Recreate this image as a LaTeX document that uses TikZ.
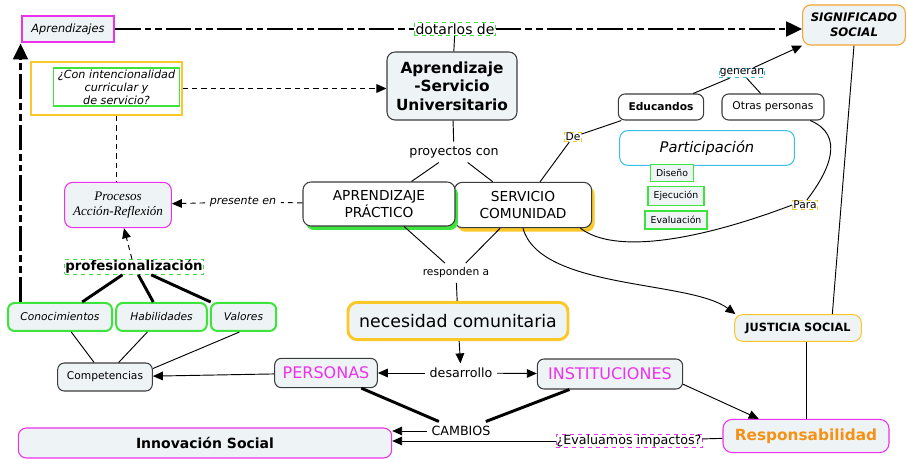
\documentclass[tikz,border=0pt]{standalone}
\usepackage{fontspec}
\setmainfont{DejaVu Sans}
\newfontfamily\seriffont{Liberation Serif}
\usepackage{tikz}
\usetikzlibrary{arrows.meta,shadows}
\usepackage{xcolor}
\definecolor{fondo}{RGB}{238,243,246}
\definecolor{gris}{RGB}{60,60,60}
\definecolor{rosa}{RGB}{236,50,236}
\definecolor{verde}{RGB}{60,228,60}
\definecolor{amarillo}{RGB}{250,200,40}
\definecolor{naranja}{RGB}{245,165,50}
\definecolor{naranjo}{RGB}{245,145,20}
\definecolor{celeste}{RGB}{60,190,235}

\begin{document}
\begin{tikzpicture}[x=0.75pt,y=-0.75pt,
    caja/.style={draw=gris,fill=fondo,rounded corners=4pt,line width=0.8pt,inner sep=1pt,align=center},
    blanca/.style={caja,fill=white},
    etiqueta/.style={draw,dashed,fill=white,inner sep=0.8pt,line width=0.7pt},
    enlace/.style={line width=0.7pt},
    flecha/.style={enlace,-{Triangle[length=7.5pt,width=6.5pt]}},
    grueso/.style={line width=2.2pt},
    rayapunto/.style={line width=2.2pt,dash pattern=on 19pt off 3pt on 5pt off 3pt on 5pt off 3pt},
    punteada/.style={enlace,dash pattern=on 4pt off 3pt}]
  \useasboundingbox (0,0) rectangle (907,459);

  \node[caja,draw=rosa,line width=2.2pt,rounded corners=0pt,minimum width=69pt,minimum height=19.5pt,font=\fontsize{8.5}{10}\selectfont\itshape] (aprendizajes) at (68,29) {Aprendizajes};
  \node[etiqueta,draw=verde,font=\fontsize{10.5}{12}\selectfont] (dotarlos) at (455,29) {dotarlos de};
  \node[caja,draw=naranja,rounded corners=6pt,minimum width=77pt,minimum height=30pt,font=\fontsize{8.8}{11}\selectfont\bfseries\itshape] (significado) at (854,25) {SIGNIFICADO\\SOCIAL};
  \node[draw=amarillo,line width=1.2pt,minimum width=113pt,minimum height=40pt] (marco) at (106.5,88.5) {};
  \node[draw=verde,line width=0.8pt,minimum width=94pt,minimum height=28.5pt,inner sep=0pt,align=center,font=\fontsize{8.4}{9.8}\selectfont\itshape] (pregunta) at (116.5,87) {¿Con intencionalidad\\curricular y\\de servicio?};
  \node[caja,rounded corners=6pt,minimum width=97.5pt,minimum height=51pt,font=\fontsize{11.5}{14}\selectfont\bfseries] (apsu) at (452,86) {Aprendizaje\\-Servicio\\Universitario};

  \node[blanca,rounded corners=5pt,minimum width=64pt,minimum height=19.5pt,font=\fontsize{8}{9.6}\selectfont\bfseries] (educandos) at (661,107) {Educandos};
  \node[blanca,rounded corners=5pt,minimum width=76.5pt,minimum height=19.5pt,font=\fontsize{8}{9.6}\selectfont] (otras) at (773,107) {Otras personas};
  \node[etiqueta,draw=celeste,inner sep=0.5pt,font=\fontsize{8}{9.6}\selectfont] (generan) at (742,73) {generan};
  \node[blanca,draw=celeste,rounded corners=6pt,minimum width=131pt,minimum height=26pt,font=\fontsize{11}{13}\selectfont\itshape] (participacion) at (707,148) {Participación};
  \node[caja,draw=verde,rounded corners=0pt,minimum width=32pt,minimum height=13pt,font=\fontsize{7}{8.4}\selectfont] (diseno) at (672,173) {Diseño};
  \node[caja,draw=verde,rounded corners=0pt,minimum width=42pt,minimum height=14pt,font=\fontsize{7}{8.4}\selectfont] (ejecucion) at (676,196) {Ejecución};
  \node[caja,draw=verde,rounded corners=0pt,minimum width=46.5pt,minimum height=13.5pt,font=\fontsize{7}{8.4}\selectfont] (evaluacion) at (676,220) {Evaluación};
  \node[etiqueta,draw=amarillo,inner sep=0.5pt,font=\fontsize{8}{9.6}\selectfont] (de) at (573,137) {De};
  \node[etiqueta,draw=amarillo,inner sep=0.5pt,font=\fontsize{8}{9.6}\selectfont] (para) at (805,205) {Para};

  \node[font=\fontsize{9.5}{11}\selectfont] (proyectos) at (454,152) {proyectos con};
  \node[blanca,rounded corners=6pt,minimum width=103pt,minimum height=34pt,font=\fontsize{10.3}{12.5}\selectfont,
        drop shadow={shadow xshift=2.2pt,shadow yshift=-3pt,fill=amarillo,opacity=1}] (servicio) at (523,205) {SERVICIO\\COMUNIDAD};
  \node[blanca,rounded corners=6pt,minimum width=114pt,minimum height=33pt,font=\fontsize{10.3}{12.5}\selectfont,
        drop shadow={shadow xshift=2.2pt,shadow yshift=-3pt,fill=verde,opacity=1}] (practico) at (379,204) {APRENDIZAJE\\PRÁCTICO};
  \node[caja,draw=rosa,rounded corners=6pt,minimum width=80pt,minimum height=34pt,font=\seriffont\fontsize{9.8}{11.5}\selectfont\itshape] (procesos) at (118,205) {Procesos\\Acción-Reflexión};
  \node[font=\fontsize{8.3}{9.6}\selectfont\itshape] (presente) at (243,202) {presente en};
  \node[etiqueta,draw=verde,inner sep=0.5pt,font=\fontsize{10}{12}\selectfont\bfseries] (profesional) at (134,267) {profesionalización};

  \node[caja,draw=verde,line width=1.5pt,rounded corners=5pt,minimum width=78pt,minimum height=21pt,font=\fontsize{8}{9.6}\selectfont\itshape] (conocimientos) at (60,317) {Conocimientos};
  \node[caja,draw=verde,line width=1.5pt,rounded corners=5pt,minimum width=68pt,minimum height=21pt,font=\fontsize{8}{9.6}\selectfont\itshape] (habilidades) at (161.5,317) {Habilidades};
  \node[caja,draw=verde,line width=1.5pt,rounded corners=5pt,minimum width=49pt,minimum height=21pt,font=\fontsize{8}{9.6}\selectfont\itshape] (valores) at (243.5,317) {Valores};
  \node[caja,rounded corners=5pt,minimum width=71pt,minimum height=21pt,font=\fontsize{8}{9.6}\selectfont] (competencias) at (105,377) {Competencias};

  \node[font=\fontsize{8}{9.6}\selectfont] (responden) at (456,273) {responden a};
  \node[caja,draw=amarillo,line width=2.2pt,rounded corners=7pt,minimum width=165pt,minimum height=28pt,font=\fontsize{13}{15}\selectfont] (necesidad) at (458,321) {necesidad comunitaria};
  \node[caja,rounded corners=5pt,minimum width=77pt,minimum height=22pt,text=rosa,font=\fontsize{12}{14}\selectfont] (personas) at (326,373) {PERSONAS};
  \node[font=\fontsize{9.5}{11}\selectfont] (desarrollo) at (461,373) {desarrollo};
  \node[caja,rounded corners=5pt,minimum width=109pt,minimum height=22.5pt,text=rosa,font=\fontsize{12}{14}\selectfont] (instituciones) at (610,374) {INSTITUCIONES};
  \node[caja,draw=amarillo,rounded corners=6pt,minimum width=95pt,minimum height=20pt,font=\fontsize{8.5}{10}\selectfont\bfseries] (justicia) at (798,328) {JUSTICIA SOCIAL};
  \node[font=\fontsize{9.5}{11}\selectfont] (cambios) at (461,431) {CAMBIOS};
  \node[caja,draw=rosa,rounded corners=6pt,minimum width=280pt,minimum height=22.5pt,font=\fontsize{10.5}{12}\selectfont\bfseries] (innovacion) at (205,443) {Innovación Social};
  \node[etiqueta,draw=rosa,inner sep=0.5pt,font=\fontsize{9.5}{11}\selectfont] (evaluamos) at (629,441) {¿Evaluamos impactos?};
  \node[caja,draw=rosa,rounded corners=7pt,minimum width=124.5pt,minimum height=25pt,text=naranjo,font=\fontsize{11.5}{13}\selectfont\bfseries] (responsabilidad) at (806,436) {Responsabilidad};

  \draw[rayapunto] (aprendizajes) -- (dotarlos);
  \draw[rayapunto,-{Triangle[length=12pt,width=11pt]}] (dotarlos) -- (significado.west |- dotarlos);
  \draw[rayapunto,-{Triangle[length=12pt,width=11pt]}] (aprendizajes.south west |- conocimientos.north) -- (aprendizajes.south west);
  \draw[punteada,-{Triangle[length=7.5pt,width=6.5pt]}] (marco.east) -- (apsu.west |- marco.east);
  \draw[punteada] (marco.south -| pregunta.south) -- (procesos.north -| pregunta.south);
  \draw[punteada] (practico) -- (presente);
  \draw[punteada,-{Triangle[length=7.5pt,width=6.5pt]}] (presente) -- (procesos);
  \draw[punteada,-{Triangle[length=7.5pt,width=6.5pt]}] (profesional) -- (procesos);
  \foreach \n in {conocimientos,habilidades,valores}
    \draw[grueso] (profesional) -- (\n);
  \draw[enlace] (conocimientos) -- (competencias);
  \draw[enlace] (habilidades) -- (competencias);
  \draw[enlace] (valores.-105) -- (competencias.10);

  \draw[enlace] (apsu) -- (dotarlos);
  \draw[enlace] (apsu) -- (proyectos);
  \draw[enlace] (proyectos) -- (practico);
  \draw[enlace] (proyectos) -- (servicio);
  \draw[enlace] (practico) -- (responden);
  \draw[enlace] (servicio) -- (responden);
  \draw[enlace] (responden) -- (necesidad);
  \draw[flecha] (necesidad) -- (desarrollo);
  \draw[flecha] (desarrollo) -- (personas);
  \draw[flecha] (desarrollo) -- (instituciones);
  \draw[flecha] (personas) -- (competencias);
  \draw[grueso] (personas) -- (cambios);
  \draw[grueso] (instituciones) -- (cambios);
  \draw[flecha] (cambios) -- (innovacion.east |- cambios);
  \draw[flecha] (evaluamos) -- (innovacion.east |- evaluamos);
  \draw[enlace] (responsabilidad) -- (evaluamos);
  \draw[flecha] (instituciones.-8) -- (responsabilidad.160);

  \draw[flecha] (servicio.south) .. controls (540,290) and (690,280) .. ([xshift=1pt]justicia.north west);
  \draw[enlace] (servicio.-22) .. controls (615,255) and (700,240) .. (para.west);
  \draw[enlace] (para.70) .. controls (830,170) and (845,135) .. (otras.-20);
  \draw[enlace] (servicio) -- (de);
  \draw[enlace] (de) -- (educandos);
  \draw[enlace] (educandos) -- (generan);
  \draw[enlace] (otras) -- (generan);
  \draw[flecha] (generan) -- (significado.south west);
  \draw[enlace] (significado.south) -- (justicia.22);
  \draw[enlace] (justicia.south -| responsabilidad.north) -- (responsabilidad.north);
\end{tikzpicture}
\end{document}
